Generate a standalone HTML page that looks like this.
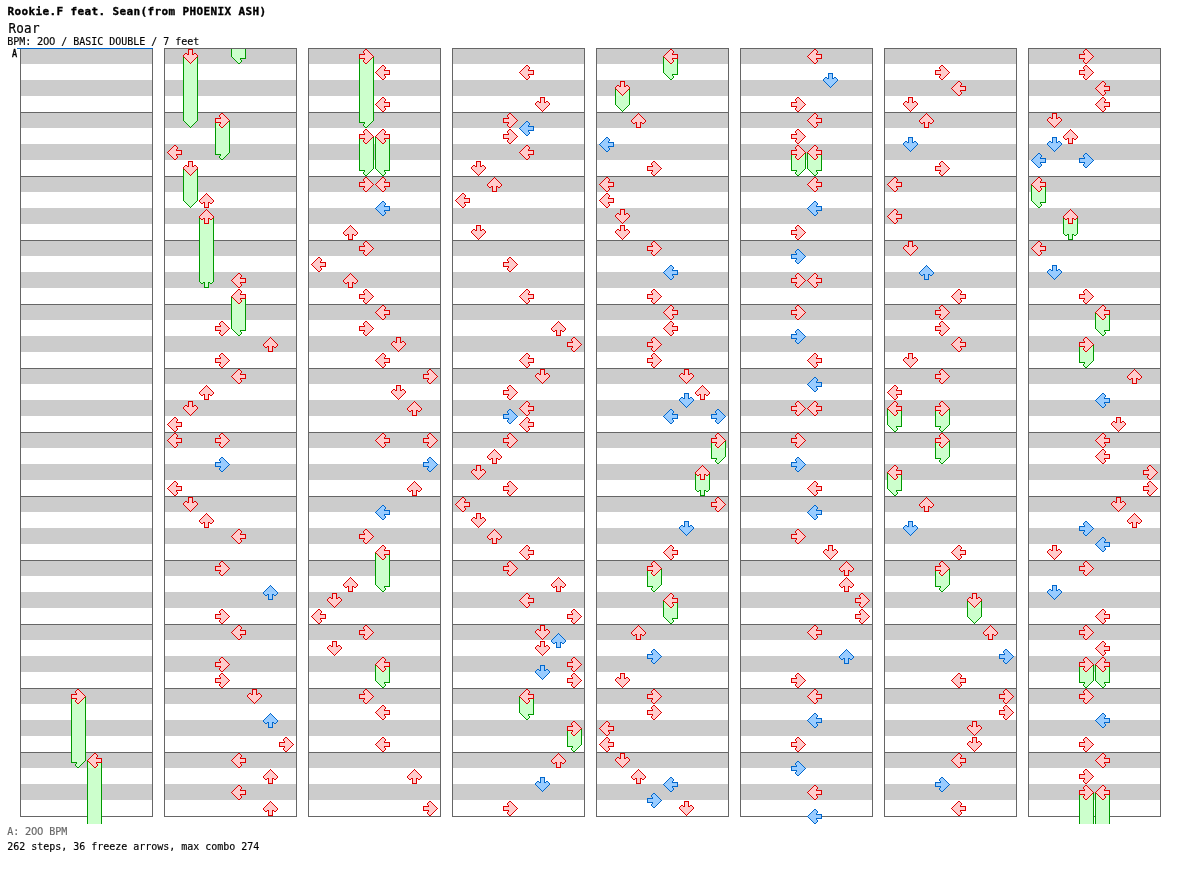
<!DOCTYPE html>
<html><head><meta charset="utf-8"><title>Roar</title>
<style>
html,body{margin:0;padding:0;background:#fff}
svg{display:block}
text{font-family:"DejaVu Sans Mono","Liberation Mono",monospace;white-space:pre}
</style></head><body>
<svg width="1184" height="876" viewBox="0 0 1184 876">
<defs><g id="rL"><path fill="#ffcccc" d="M7 0h2v1h-2zM6 1h4v1h-4zM5 2h6v1h-6zM4 3h7v1h-7zM3 4h7v1h-7zM2 5h13v1h-13zM1 6h14v1h-14zM0 7h15v1h-15zM1 8h14v1h-14zM2 9h13v1h-13zM3 10h7v1h-7zM4 11h7v1h-7zM5 12h6v1h-6zM6 13h4v1h-4zM7 14h2v1h-2z"/><path fill="#dd0000" d="M7 0h2v1h-2zM6 1h1v1h-1zM9 1h1v1h-1zM5 2h1v1h-1zM10 2h1v1h-1zM4 3h1v1h-1zM10 3h1v1h-1zM3 4h1v1h-1zM9 4h1v1h-1zM2 5h1v1h-1zM9 5h6v1h-6zM1 6h1v1h-1zM14 6h1v1h-1zM0 7h1v1h-1zM14 7h1v1h-1zM1 8h1v1h-1zM14 8h1v1h-1zM2 9h1v1h-1zM9 9h6v1h-6zM3 10h1v1h-1zM9 10h1v1h-1zM4 11h1v1h-1zM10 11h1v1h-1zM5 12h1v1h-1zM10 12h1v1h-1zM6 13h1v1h-1zM9 13h1v1h-1zM7 14h2v1h-2z"/></g><g id="bL"><path fill="#99ccff" d="M7 0h2v1h-2zM6 1h4v1h-4zM5 2h6v1h-6zM4 3h7v1h-7zM3 4h7v1h-7zM2 5h13v1h-13zM1 6h14v1h-14zM0 7h15v1h-15zM1 8h14v1h-14zM2 9h13v1h-13zM3 10h7v1h-7zM4 11h7v1h-7zM5 12h6v1h-6zM6 13h4v1h-4zM7 14h2v1h-2z"/><path fill="#0066cc" d="M7 0h2v1h-2zM6 1h1v1h-1zM9 1h1v1h-1zM5 2h1v1h-1zM10 2h1v1h-1zM4 3h1v1h-1zM10 3h1v1h-1zM3 4h1v1h-1zM9 4h1v1h-1zM2 5h1v1h-1zM9 5h6v1h-6zM1 6h1v1h-1zM14 6h1v1h-1zM0 7h1v1h-1zM14 7h1v1h-1zM1 8h1v1h-1zM14 8h1v1h-1zM2 9h1v1h-1zM9 9h6v1h-6zM3 10h1v1h-1zM9 10h1v1h-1zM4 11h1v1h-1zM10 11h1v1h-1zM5 12h1v1h-1zM10 12h1v1h-1zM6 13h1v1h-1zM9 13h1v1h-1zM7 14h2v1h-2z"/></g><g id="tL"><path fill="#ccffcc" d="M0 7h15v1h-15zM1 8h14v1h-14zM2 9h13v1h-13zM3 10h7v1h-7zM4 11h7v1h-7zM5 12h6v1h-6zM6 13h4v1h-4zM7 14h2v1h-2z"/><path fill="#009900" d="M0 7h1v1h-1zM14 7h1v1h-1zM1 8h1v1h-1zM14 8h1v1h-1zM2 9h1v1h-1zM9 9h6v1h-6zM3 10h1v1h-1zM9 10h1v1h-1zM4 11h1v1h-1zM10 11h1v1h-1zM5 12h1v1h-1zM10 12h1v1h-1zM6 13h1v1h-1zM9 13h1v1h-1zM7 14h2v1h-2z"/></g><g id="rD"><path fill="#ffcccc" d="M5 0h5v1h-5zM5 1h5v1h-5zM5 2h5v1h-5zM5 3h5v1h-5zM2 4h2v1h-2zM5 4h5v1h-5zM11 4h2v1h-2zM1 5h13v1h-13zM0 6h15v1h-15zM0 7h15v1h-15zM1 8h13v1h-13zM2 9h11v1h-11zM3 10h9v1h-9zM4 11h7v1h-7zM5 12h5v1h-5zM6 13h3v1h-3zM7 14h1v1h-1z"/><path fill="#dd0000" d="M5 0h5v1h-5zM5 1h1v1h-1zM9 1h1v1h-1zM5 2h1v1h-1zM9 2h1v1h-1zM5 3h1v1h-1zM9 3h1v1h-1zM2 4h2v1h-2zM5 4h1v1h-1zM9 4h1v1h-1zM11 4h2v1h-2zM1 5h1v1h-1zM4 5h2v1h-2zM9 5h2v1h-2zM13 5h1v1h-1zM0 6h1v1h-1zM14 6h1v1h-1zM0 7h1v1h-1zM14 7h1v1h-1zM1 8h1v1h-1zM13 8h1v1h-1zM2 9h1v1h-1zM12 9h1v1h-1zM3 10h1v1h-1zM11 10h1v1h-1zM4 11h1v1h-1zM10 11h1v1h-1zM5 12h1v1h-1zM9 12h1v1h-1zM6 13h1v1h-1zM8 13h1v1h-1zM7 14h1v1h-1z"/></g><g id="bD"><path fill="#99ccff" d="M5 0h5v1h-5zM5 1h5v1h-5zM5 2h5v1h-5zM5 3h5v1h-5zM2 4h2v1h-2zM5 4h5v1h-5zM11 4h2v1h-2zM1 5h13v1h-13zM0 6h15v1h-15zM0 7h15v1h-15zM1 8h13v1h-13zM2 9h11v1h-11zM3 10h9v1h-9zM4 11h7v1h-7zM5 12h5v1h-5zM6 13h3v1h-3zM7 14h1v1h-1z"/><path fill="#0066cc" d="M5 0h5v1h-5zM5 1h1v1h-1zM9 1h1v1h-1zM5 2h1v1h-1zM9 2h1v1h-1zM5 3h1v1h-1zM9 3h1v1h-1zM2 4h2v1h-2zM5 4h1v1h-1zM9 4h1v1h-1zM11 4h2v1h-2zM1 5h1v1h-1zM4 5h2v1h-2zM9 5h2v1h-2zM13 5h1v1h-1zM0 6h1v1h-1zM14 6h1v1h-1zM0 7h1v1h-1zM14 7h1v1h-1zM1 8h1v1h-1zM13 8h1v1h-1zM2 9h1v1h-1zM12 9h1v1h-1zM3 10h1v1h-1zM11 10h1v1h-1zM4 11h1v1h-1zM10 11h1v1h-1zM5 12h1v1h-1zM9 12h1v1h-1zM6 13h1v1h-1zM8 13h1v1h-1zM7 14h1v1h-1z"/></g><g id="tD"><path fill="#ccffcc" d="M0 7h15v1h-15zM1 8h13v1h-13zM2 9h11v1h-11zM3 10h9v1h-9zM4 11h7v1h-7zM5 12h5v1h-5zM6 13h3v1h-3zM7 14h1v1h-1z"/><path fill="#009900" d="M0 7h1v1h-1zM14 7h1v1h-1zM1 8h1v1h-1zM13 8h1v1h-1zM2 9h1v1h-1zM12 9h1v1h-1zM3 10h1v1h-1zM11 10h1v1h-1zM4 11h1v1h-1zM10 11h1v1h-1zM5 12h1v1h-1zM9 12h1v1h-1zM6 13h1v1h-1zM8 13h1v1h-1zM7 14h1v1h-1z"/></g><g id="rU"><path fill="#ffcccc" d="M7 0h1v1h-1zM6 1h3v1h-3zM5 2h5v1h-5zM4 3h7v1h-7zM3 4h9v1h-9zM2 5h11v1h-11zM1 6h13v1h-13zM0 7h15v1h-15zM0 8h15v1h-15zM1 9h13v1h-13zM2 10h2v1h-2zM5 10h5v1h-5zM11 10h2v1h-2zM5 11h5v1h-5zM5 12h5v1h-5zM5 13h5v1h-5zM5 14h5v1h-5z"/><path fill="#dd0000" d="M7 0h1v1h-1zM6 1h1v1h-1zM8 1h1v1h-1zM5 2h1v1h-1zM9 2h1v1h-1zM4 3h1v1h-1zM10 3h1v1h-1zM3 4h1v1h-1zM11 4h1v1h-1zM2 5h1v1h-1zM12 5h1v1h-1zM1 6h1v1h-1zM13 6h1v1h-1zM0 7h1v1h-1zM14 7h1v1h-1zM0 8h1v1h-1zM14 8h1v1h-1zM1 9h1v1h-1zM4 9h2v1h-2zM9 9h2v1h-2zM13 9h1v1h-1zM2 10h2v1h-2zM5 10h1v1h-1zM9 10h1v1h-1zM11 10h2v1h-2zM5 11h1v1h-1zM9 11h1v1h-1zM5 12h1v1h-1zM9 12h1v1h-1zM5 13h1v1h-1zM9 13h1v1h-1zM5 14h5v1h-5z"/></g><g id="bU"><path fill="#99ccff" d="M7 0h1v1h-1zM6 1h3v1h-3zM5 2h5v1h-5zM4 3h7v1h-7zM3 4h9v1h-9zM2 5h11v1h-11zM1 6h13v1h-13zM0 7h15v1h-15zM0 8h15v1h-15zM1 9h13v1h-13zM2 10h2v1h-2zM5 10h5v1h-5zM11 10h2v1h-2zM5 11h5v1h-5zM5 12h5v1h-5zM5 13h5v1h-5zM5 14h5v1h-5z"/><path fill="#0066cc" d="M7 0h1v1h-1zM6 1h1v1h-1zM8 1h1v1h-1zM5 2h1v1h-1zM9 2h1v1h-1zM4 3h1v1h-1zM10 3h1v1h-1zM3 4h1v1h-1zM11 4h1v1h-1zM2 5h1v1h-1zM12 5h1v1h-1zM1 6h1v1h-1zM13 6h1v1h-1zM0 7h1v1h-1zM14 7h1v1h-1zM0 8h1v1h-1zM14 8h1v1h-1zM1 9h1v1h-1zM4 9h2v1h-2zM9 9h2v1h-2zM13 9h1v1h-1zM2 10h2v1h-2zM5 10h1v1h-1zM9 10h1v1h-1zM11 10h2v1h-2zM5 11h1v1h-1zM9 11h1v1h-1zM5 12h1v1h-1zM9 12h1v1h-1zM5 13h1v1h-1zM9 13h1v1h-1zM5 14h5v1h-5z"/></g><g id="tU"><path fill="#ccffcc" d="M0 7h15v1h-15zM0 8h15v1h-15zM1 9h13v1h-13zM2 10h2v1h-2zM5 10h5v1h-5zM11 10h2v1h-2zM5 11h5v1h-5zM5 12h5v1h-5zM5 13h5v1h-5zM5 14h5v1h-5z"/><path fill="#009900" d="M0 7h1v1h-1zM14 7h1v1h-1zM0 8h1v1h-1zM14 8h1v1h-1zM1 9h1v1h-1zM4 9h2v1h-2zM9 9h2v1h-2zM13 9h1v1h-1zM2 10h2v1h-2zM5 10h1v1h-1zM9 10h1v1h-1zM11 10h2v1h-2zM5 11h1v1h-1zM9 11h1v1h-1zM5 12h1v1h-1zM9 12h1v1h-1zM5 13h1v1h-1zM9 13h1v1h-1zM5 14h5v1h-5z"/></g><g id="rR"><path fill="#ffcccc" d="M6 0h2v1h-2zM5 1h4v1h-4zM4 2h6v1h-6zM4 3h7v1h-7zM5 4h7v1h-7zM0 5h13v1h-13zM0 6h14v1h-14zM0 7h15v1h-15zM0 8h14v1h-14zM0 9h13v1h-13zM5 10h7v1h-7zM4 11h7v1h-7zM4 12h6v1h-6zM5 13h4v1h-4zM6 14h2v1h-2z"/><path fill="#dd0000" d="M6 0h2v1h-2zM5 1h1v1h-1zM8 1h1v1h-1zM4 2h1v1h-1zM9 2h1v1h-1zM4 3h1v1h-1zM10 3h1v1h-1zM5 4h1v1h-1zM11 4h1v1h-1zM0 5h6v1h-6zM12 5h1v1h-1zM0 6h1v1h-1zM13 6h1v1h-1zM0 7h1v1h-1zM14 7h1v1h-1zM0 8h1v1h-1zM13 8h1v1h-1zM0 9h6v1h-6zM12 9h1v1h-1zM5 10h1v1h-1zM11 10h1v1h-1zM4 11h1v1h-1zM10 11h1v1h-1zM4 12h1v1h-1zM9 12h1v1h-1zM5 13h1v1h-1zM8 13h1v1h-1zM6 14h2v1h-2z"/></g><g id="bR"><path fill="#99ccff" d="M6 0h2v1h-2zM5 1h4v1h-4zM4 2h6v1h-6zM4 3h7v1h-7zM5 4h7v1h-7zM0 5h13v1h-13zM0 6h14v1h-14zM0 7h15v1h-15zM0 8h14v1h-14zM0 9h13v1h-13zM5 10h7v1h-7zM4 11h7v1h-7zM4 12h6v1h-6zM5 13h4v1h-4zM6 14h2v1h-2z"/><path fill="#0066cc" d="M6 0h2v1h-2zM5 1h1v1h-1zM8 1h1v1h-1zM4 2h1v1h-1zM9 2h1v1h-1zM4 3h1v1h-1zM10 3h1v1h-1zM5 4h1v1h-1zM11 4h1v1h-1zM0 5h6v1h-6zM12 5h1v1h-1zM0 6h1v1h-1zM13 6h1v1h-1zM0 7h1v1h-1zM14 7h1v1h-1zM0 8h1v1h-1zM13 8h1v1h-1zM0 9h6v1h-6zM12 9h1v1h-1zM5 10h1v1h-1zM11 10h1v1h-1zM4 11h1v1h-1zM10 11h1v1h-1zM4 12h1v1h-1zM9 12h1v1h-1zM5 13h1v1h-1zM8 13h1v1h-1zM6 14h2v1h-2z"/></g><g id="tR"><path fill="#ccffcc" d="M0 7h15v1h-15zM0 8h14v1h-14zM0 9h13v1h-13zM5 10h7v1h-7zM4 11h7v1h-7zM4 12h6v1h-6zM5 13h4v1h-4zM6 14h2v1h-2z"/><path fill="#009900" d="M0 7h1v1h-1zM14 7h1v1h-1zM0 8h1v1h-1zM13 8h1v1h-1zM0 9h6v1h-6zM12 9h1v1h-1zM5 10h1v1h-1zM11 10h1v1h-1zM4 11h1v1h-1zM10 11h1v1h-1zM4 12h1v1h-1zM9 12h1v1h-1zM5 13h1v1h-1zM8 13h1v1h-1zM6 14h2v1h-2z"/></g></defs>
<rect width="1184" height="876" fill="#fff"/>
<g shape-rendering="crispEdges">
<rect x="21" y="48" width="131" height="16" fill="#ccc"/><rect x="21" y="80" width="131" height="16" fill="#ccc"/><rect x="21" y="112" width="131" height="16" fill="#ccc"/><rect x="21" y="144" width="131" height="16" fill="#ccc"/><rect x="21" y="176" width="131" height="16" fill="#ccc"/><rect x="21" y="208" width="131" height="16" fill="#ccc"/><rect x="21" y="240" width="131" height="16" fill="#ccc"/><rect x="21" y="272" width="131" height="16" fill="#ccc"/><rect x="21" y="304" width="131" height="16" fill="#ccc"/><rect x="21" y="336" width="131" height="16" fill="#ccc"/><rect x="21" y="368" width="131" height="16" fill="#ccc"/><rect x="21" y="400" width="131" height="16" fill="#ccc"/><rect x="21" y="432" width="131" height="16" fill="#ccc"/><rect x="21" y="464" width="131" height="16" fill="#ccc"/><rect x="21" y="496" width="131" height="16" fill="#ccc"/><rect x="21" y="528" width="131" height="16" fill="#ccc"/><rect x="21" y="560" width="131" height="16" fill="#ccc"/><rect x="21" y="592" width="131" height="16" fill="#ccc"/><rect x="21" y="624" width="131" height="16" fill="#ccc"/><rect x="21" y="656" width="131" height="16" fill="#ccc"/><rect x="21" y="688" width="131" height="16" fill="#ccc"/><rect x="21" y="720" width="131" height="16" fill="#ccc"/><rect x="21" y="752" width="131" height="16" fill="#ccc"/><rect x="21" y="784" width="131" height="16" fill="#ccc"/><rect x="20" y="48" width="133" height="1" fill="#666"/><rect x="20" y="112" width="133" height="1" fill="#666"/><rect x="20" y="176" width="133" height="1" fill="#666"/><rect x="20" y="240" width="133" height="1" fill="#666"/><rect x="20" y="304" width="133" height="1" fill="#666"/><rect x="20" y="368" width="133" height="1" fill="#666"/><rect x="20" y="432" width="133" height="1" fill="#666"/><rect x="20" y="496" width="133" height="1" fill="#666"/><rect x="20" y="560" width="133" height="1" fill="#666"/><rect x="20" y="624" width="133" height="1" fill="#666"/><rect x="20" y="688" width="133" height="1" fill="#666"/><rect x="20" y="752" width="133" height="1" fill="#666"/><rect x="20" y="816" width="133" height="1" fill="#666"/><rect x="20" y="48" width="1" height="769" fill="#666"/><rect x="152" y="48" width="1" height="769" fill="#666"/><rect x="165" y="48" width="131" height="16" fill="#ccc"/><rect x="165" y="80" width="131" height="16" fill="#ccc"/><rect x="165" y="112" width="131" height="16" fill="#ccc"/><rect x="165" y="144" width="131" height="16" fill="#ccc"/><rect x="165" y="176" width="131" height="16" fill="#ccc"/><rect x="165" y="208" width="131" height="16" fill="#ccc"/><rect x="165" y="240" width="131" height="16" fill="#ccc"/><rect x="165" y="272" width="131" height="16" fill="#ccc"/><rect x="165" y="304" width="131" height="16" fill="#ccc"/><rect x="165" y="336" width="131" height="16" fill="#ccc"/><rect x="165" y="368" width="131" height="16" fill="#ccc"/><rect x="165" y="400" width="131" height="16" fill="#ccc"/><rect x="165" y="432" width="131" height="16" fill="#ccc"/><rect x="165" y="464" width="131" height="16" fill="#ccc"/><rect x="165" y="496" width="131" height="16" fill="#ccc"/><rect x="165" y="528" width="131" height="16" fill="#ccc"/><rect x="165" y="560" width="131" height="16" fill="#ccc"/><rect x="165" y="592" width="131" height="16" fill="#ccc"/><rect x="165" y="624" width="131" height="16" fill="#ccc"/><rect x="165" y="656" width="131" height="16" fill="#ccc"/><rect x="165" y="688" width="131" height="16" fill="#ccc"/><rect x="165" y="720" width="131" height="16" fill="#ccc"/><rect x="165" y="752" width="131" height="16" fill="#ccc"/><rect x="165" y="784" width="131" height="16" fill="#ccc"/><rect x="164" y="48" width="133" height="1" fill="#666"/><rect x="164" y="112" width="133" height="1" fill="#666"/><rect x="164" y="176" width="133" height="1" fill="#666"/><rect x="164" y="240" width="133" height="1" fill="#666"/><rect x="164" y="304" width="133" height="1" fill="#666"/><rect x="164" y="368" width="133" height="1" fill="#666"/><rect x="164" y="432" width="133" height="1" fill="#666"/><rect x="164" y="496" width="133" height="1" fill="#666"/><rect x="164" y="560" width="133" height="1" fill="#666"/><rect x="164" y="624" width="133" height="1" fill="#666"/><rect x="164" y="688" width="133" height="1" fill="#666"/><rect x="164" y="752" width="133" height="1" fill="#666"/><rect x="164" y="816" width="133" height="1" fill="#666"/><rect x="164" y="48" width="1" height="769" fill="#666"/><rect x="296" y="48" width="1" height="769" fill="#666"/><rect x="309" y="48" width="131" height="16" fill="#ccc"/><rect x="309" y="80" width="131" height="16" fill="#ccc"/><rect x="309" y="112" width="131" height="16" fill="#ccc"/><rect x="309" y="144" width="131" height="16" fill="#ccc"/><rect x="309" y="176" width="131" height="16" fill="#ccc"/><rect x="309" y="208" width="131" height="16" fill="#ccc"/><rect x="309" y="240" width="131" height="16" fill="#ccc"/><rect x="309" y="272" width="131" height="16" fill="#ccc"/><rect x="309" y="304" width="131" height="16" fill="#ccc"/><rect x="309" y="336" width="131" height="16" fill="#ccc"/><rect x="309" y="368" width="131" height="16" fill="#ccc"/><rect x="309" y="400" width="131" height="16" fill="#ccc"/><rect x="309" y="432" width="131" height="16" fill="#ccc"/><rect x="309" y="464" width="131" height="16" fill="#ccc"/><rect x="309" y="496" width="131" height="16" fill="#ccc"/><rect x="309" y="528" width="131" height="16" fill="#ccc"/><rect x="309" y="560" width="131" height="16" fill="#ccc"/><rect x="309" y="592" width="131" height="16" fill="#ccc"/><rect x="309" y="624" width="131" height="16" fill="#ccc"/><rect x="309" y="656" width="131" height="16" fill="#ccc"/><rect x="309" y="688" width="131" height="16" fill="#ccc"/><rect x="309" y="720" width="131" height="16" fill="#ccc"/><rect x="309" y="752" width="131" height="16" fill="#ccc"/><rect x="309" y="784" width="131" height="16" fill="#ccc"/><rect x="308" y="48" width="133" height="1" fill="#666"/><rect x="308" y="112" width="133" height="1" fill="#666"/><rect x="308" y="176" width="133" height="1" fill="#666"/><rect x="308" y="240" width="133" height="1" fill="#666"/><rect x="308" y="304" width="133" height="1" fill="#666"/><rect x="308" y="368" width="133" height="1" fill="#666"/><rect x="308" y="432" width="133" height="1" fill="#666"/><rect x="308" y="496" width="133" height="1" fill="#666"/><rect x="308" y="560" width="133" height="1" fill="#666"/><rect x="308" y="624" width="133" height="1" fill="#666"/><rect x="308" y="688" width="133" height="1" fill="#666"/><rect x="308" y="752" width="133" height="1" fill="#666"/><rect x="308" y="816" width="133" height="1" fill="#666"/><rect x="308" y="48" width="1" height="769" fill="#666"/><rect x="440" y="48" width="1" height="769" fill="#666"/><rect x="453" y="48" width="131" height="16" fill="#ccc"/><rect x="453" y="80" width="131" height="16" fill="#ccc"/><rect x="453" y="112" width="131" height="16" fill="#ccc"/><rect x="453" y="144" width="131" height="16" fill="#ccc"/><rect x="453" y="176" width="131" height="16" fill="#ccc"/><rect x="453" y="208" width="131" height="16" fill="#ccc"/><rect x="453" y="240" width="131" height="16" fill="#ccc"/><rect x="453" y="272" width="131" height="16" fill="#ccc"/><rect x="453" y="304" width="131" height="16" fill="#ccc"/><rect x="453" y="336" width="131" height="16" fill="#ccc"/><rect x="453" y="368" width="131" height="16" fill="#ccc"/><rect x="453" y="400" width="131" height="16" fill="#ccc"/><rect x="453" y="432" width="131" height="16" fill="#ccc"/><rect x="453" y="464" width="131" height="16" fill="#ccc"/><rect x="453" y="496" width="131" height="16" fill="#ccc"/><rect x="453" y="528" width="131" height="16" fill="#ccc"/><rect x="453" y="560" width="131" height="16" fill="#ccc"/><rect x="453" y="592" width="131" height="16" fill="#ccc"/><rect x="453" y="624" width="131" height="16" fill="#ccc"/><rect x="453" y="656" width="131" height="16" fill="#ccc"/><rect x="453" y="688" width="131" height="16" fill="#ccc"/><rect x="453" y="720" width="131" height="16" fill="#ccc"/><rect x="453" y="752" width="131" height="16" fill="#ccc"/><rect x="453" y="784" width="131" height="16" fill="#ccc"/><rect x="452" y="48" width="133" height="1" fill="#666"/><rect x="452" y="112" width="133" height="1" fill="#666"/><rect x="452" y="176" width="133" height="1" fill="#666"/><rect x="452" y="240" width="133" height="1" fill="#666"/><rect x="452" y="304" width="133" height="1" fill="#666"/><rect x="452" y="368" width="133" height="1" fill="#666"/><rect x="452" y="432" width="133" height="1" fill="#666"/><rect x="452" y="496" width="133" height="1" fill="#666"/><rect x="452" y="560" width="133" height="1" fill="#666"/><rect x="452" y="624" width="133" height="1" fill="#666"/><rect x="452" y="688" width="133" height="1" fill="#666"/><rect x="452" y="752" width="133" height="1" fill="#666"/><rect x="452" y="816" width="133" height="1" fill="#666"/><rect x="452" y="48" width="1" height="769" fill="#666"/><rect x="584" y="48" width="1" height="769" fill="#666"/><rect x="597" y="48" width="131" height="16" fill="#ccc"/><rect x="597" y="80" width="131" height="16" fill="#ccc"/><rect x="597" y="112" width="131" height="16" fill="#ccc"/><rect x="597" y="144" width="131" height="16" fill="#ccc"/><rect x="597" y="176" width="131" height="16" fill="#ccc"/><rect x="597" y="208" width="131" height="16" fill="#ccc"/><rect x="597" y="240" width="131" height="16" fill="#ccc"/><rect x="597" y="272" width="131" height="16" fill="#ccc"/><rect x="597" y="304" width="131" height="16" fill="#ccc"/><rect x="597" y="336" width="131" height="16" fill="#ccc"/><rect x="597" y="368" width="131" height="16" fill="#ccc"/><rect x="597" y="400" width="131" height="16" fill="#ccc"/><rect x="597" y="432" width="131" height="16" fill="#ccc"/><rect x="597" y="464" width="131" height="16" fill="#ccc"/><rect x="597" y="496" width="131" height="16" fill="#ccc"/><rect x="597" y="528" width="131" height="16" fill="#ccc"/><rect x="597" y="560" width="131" height="16" fill="#ccc"/><rect x="597" y="592" width="131" height="16" fill="#ccc"/><rect x="597" y="624" width="131" height="16" fill="#ccc"/><rect x="597" y="656" width="131" height="16" fill="#ccc"/><rect x="597" y="688" width="131" height="16" fill="#ccc"/><rect x="597" y="720" width="131" height="16" fill="#ccc"/><rect x="597" y="752" width="131" height="16" fill="#ccc"/><rect x="597" y="784" width="131" height="16" fill="#ccc"/><rect x="596" y="48" width="133" height="1" fill="#666"/><rect x="596" y="112" width="133" height="1" fill="#666"/><rect x="596" y="176" width="133" height="1" fill="#666"/><rect x="596" y="240" width="133" height="1" fill="#666"/><rect x="596" y="304" width="133" height="1" fill="#666"/><rect x="596" y="368" width="133" height="1" fill="#666"/><rect x="596" y="432" width="133" height="1" fill="#666"/><rect x="596" y="496" width="133" height="1" fill="#666"/><rect x="596" y="560" width="133" height="1" fill="#666"/><rect x="596" y="624" width="133" height="1" fill="#666"/><rect x="596" y="688" width="133" height="1" fill="#666"/><rect x="596" y="752" width="133" height="1" fill="#666"/><rect x="596" y="816" width="133" height="1" fill="#666"/><rect x="596" y="48" width="1" height="769" fill="#666"/><rect x="728" y="48" width="1" height="769" fill="#666"/><rect x="741" y="48" width="131" height="16" fill="#ccc"/><rect x="741" y="80" width="131" height="16" fill="#ccc"/><rect x="741" y="112" width="131" height="16" fill="#ccc"/><rect x="741" y="144" width="131" height="16" fill="#ccc"/><rect x="741" y="176" width="131" height="16" fill="#ccc"/><rect x="741" y="208" width="131" height="16" fill="#ccc"/><rect x="741" y="240" width="131" height="16" fill="#ccc"/><rect x="741" y="272" width="131" height="16" fill="#ccc"/><rect x="741" y="304" width="131" height="16" fill="#ccc"/><rect x="741" y="336" width="131" height="16" fill="#ccc"/><rect x="741" y="368" width="131" height="16" fill="#ccc"/><rect x="741" y="400" width="131" height="16" fill="#ccc"/><rect x="741" y="432" width="131" height="16" fill="#ccc"/><rect x="741" y="464" width="131" height="16" fill="#ccc"/><rect x="741" y="496" width="131" height="16" fill="#ccc"/><rect x="741" y="528" width="131" height="16" fill="#ccc"/><rect x="741" y="560" width="131" height="16" fill="#ccc"/><rect x="741" y="592" width="131" height="16" fill="#ccc"/><rect x="741" y="624" width="131" height="16" fill="#ccc"/><rect x="741" y="656" width="131" height="16" fill="#ccc"/><rect x="741" y="688" width="131" height="16" fill="#ccc"/><rect x="741" y="720" width="131" height="16" fill="#ccc"/><rect x="741" y="752" width="131" height="16" fill="#ccc"/><rect x="741" y="784" width="131" height="16" fill="#ccc"/><rect x="740" y="48" width="133" height="1" fill="#666"/><rect x="740" y="112" width="133" height="1" fill="#666"/><rect x="740" y="176" width="133" height="1" fill="#666"/><rect x="740" y="240" width="133" height="1" fill="#666"/><rect x="740" y="304" width="133" height="1" fill="#666"/><rect x="740" y="368" width="133" height="1" fill="#666"/><rect x="740" y="432" width="133" height="1" fill="#666"/><rect x="740" y="496" width="133" height="1" fill="#666"/><rect x="740" y="560" width="133" height="1" fill="#666"/><rect x="740" y="624" width="133" height="1" fill="#666"/><rect x="740" y="688" width="133" height="1" fill="#666"/><rect x="740" y="752" width="133" height="1" fill="#666"/><rect x="740" y="816" width="133" height="1" fill="#666"/><rect x="740" y="48" width="1" height="769" fill="#666"/><rect x="872" y="48" width="1" height="769" fill="#666"/><rect x="885" y="48" width="131" height="16" fill="#ccc"/><rect x="885" y="80" width="131" height="16" fill="#ccc"/><rect x="885" y="112" width="131" height="16" fill="#ccc"/><rect x="885" y="144" width="131" height="16" fill="#ccc"/><rect x="885" y="176" width="131" height="16" fill="#ccc"/><rect x="885" y="208" width="131" height="16" fill="#ccc"/><rect x="885" y="240" width="131" height="16" fill="#ccc"/><rect x="885" y="272" width="131" height="16" fill="#ccc"/><rect x="885" y="304" width="131" height="16" fill="#ccc"/><rect x="885" y="336" width="131" height="16" fill="#ccc"/><rect x="885" y="368" width="131" height="16" fill="#ccc"/><rect x="885" y="400" width="131" height="16" fill="#ccc"/><rect x="885" y="432" width="131" height="16" fill="#ccc"/><rect x="885" y="464" width="131" height="16" fill="#ccc"/><rect x="885" y="496" width="131" height="16" fill="#ccc"/><rect x="885" y="528" width="131" height="16" fill="#ccc"/><rect x="885" y="560" width="131" height="16" fill="#ccc"/><rect x="885" y="592" width="131" height="16" fill="#ccc"/><rect x="885" y="624" width="131" height="16" fill="#ccc"/><rect x="885" y="656" width="131" height="16" fill="#ccc"/><rect x="885" y="688" width="131" height="16" fill="#ccc"/><rect x="885" y="720" width="131" height="16" fill="#ccc"/><rect x="885" y="752" width="131" height="16" fill="#ccc"/><rect x="885" y="784" width="131" height="16" fill="#ccc"/><rect x="884" y="48" width="133" height="1" fill="#666"/><rect x="884" y="112" width="133" height="1" fill="#666"/><rect x="884" y="176" width="133" height="1" fill="#666"/><rect x="884" y="240" width="133" height="1" fill="#666"/><rect x="884" y="304" width="133" height="1" fill="#666"/><rect x="884" y="368" width="133" height="1" fill="#666"/><rect x="884" y="432" width="133" height="1" fill="#666"/><rect x="884" y="496" width="133" height="1" fill="#666"/><rect x="884" y="560" width="133" height="1" fill="#666"/><rect x="884" y="624" width="133" height="1" fill="#666"/><rect x="884" y="688" width="133" height="1" fill="#666"/><rect x="884" y="752" width="133" height="1" fill="#666"/><rect x="884" y="816" width="133" height="1" fill="#666"/><rect x="884" y="48" width="1" height="769" fill="#666"/><rect x="1016" y="48" width="1" height="769" fill="#666"/><rect x="1029" y="48" width="131" height="16" fill="#ccc"/><rect x="1029" y="80" width="131" height="16" fill="#ccc"/><rect x="1029" y="112" width="131" height="16" fill="#ccc"/><rect x="1029" y="144" width="131" height="16" fill="#ccc"/><rect x="1029" y="176" width="131" height="16" fill="#ccc"/><rect x="1029" y="208" width="131" height="16" fill="#ccc"/><rect x="1029" y="240" width="131" height="16" fill="#ccc"/><rect x="1029" y="272" width="131" height="16" fill="#ccc"/><rect x="1029" y="304" width="131" height="16" fill="#ccc"/><rect x="1029" y="336" width="131" height="16" fill="#ccc"/><rect x="1029" y="368" width="131" height="16" fill="#ccc"/><rect x="1029" y="400" width="131" height="16" fill="#ccc"/><rect x="1029" y="432" width="131" height="16" fill="#ccc"/><rect x="1029" y="464" width="131" height="16" fill="#ccc"/><rect x="1029" y="496" width="131" height="16" fill="#ccc"/><rect x="1029" y="528" width="131" height="16" fill="#ccc"/><rect x="1029" y="560" width="131" height="16" fill="#ccc"/><rect x="1029" y="592" width="131" height="16" fill="#ccc"/><rect x="1029" y="624" width="131" height="16" fill="#ccc"/><rect x="1029" y="656" width="131" height="16" fill="#ccc"/><rect x="1029" y="688" width="131" height="16" fill="#ccc"/><rect x="1029" y="720" width="131" height="16" fill="#ccc"/><rect x="1029" y="752" width="131" height="16" fill="#ccc"/><rect x="1029" y="784" width="131" height="16" fill="#ccc"/><rect x="1028" y="48" width="133" height="1" fill="#666"/><rect x="1028" y="112" width="133" height="1" fill="#666"/><rect x="1028" y="176" width="133" height="1" fill="#666"/><rect x="1028" y="240" width="133" height="1" fill="#666"/><rect x="1028" y="304" width="133" height="1" fill="#666"/><rect x="1028" y="368" width="133" height="1" fill="#666"/><rect x="1028" y="432" width="133" height="1" fill="#666"/><rect x="1028" y="496" width="133" height="1" fill="#666"/><rect x="1028" y="560" width="133" height="1" fill="#666"/><rect x="1028" y="624" width="133" height="1" fill="#666"/><rect x="1028" y="688" width="133" height="1" fill="#666"/><rect x="1028" y="752" width="133" height="1" fill="#666"/><rect x="1028" y="816" width="133" height="1" fill="#666"/><rect x="1028" y="48" width="1" height="769" fill="#666"/><rect x="1160" y="48" width="1" height="769" fill="#666"/>
<rect x="17" y="48" width="136" height="1" fill="#0066cc"/>
<rect x="71" y="696" width="15" height="64" fill="#009900"/><rect x="72" y="696" width="13" height="64" fill="#ccffcc"/><use href="#tR" x="71" y="753"/><rect x="87" y="760" width="15" height="64" fill="#009900"/><rect x="88" y="760" width="13" height="64" fill="#ccffcc"/><rect x="231" y="49" width="15" height="7" fill="#009900"/><rect x="232" y="49" width="13" height="7" fill="#ccffcc"/><use href="#tL" x="231" y="49"/><rect x="183" y="56" width="15" height="64" fill="#009900"/><rect x="184" y="56" width="13" height="64" fill="#ccffcc"/><use href="#tD" x="183" y="113"/><rect x="215" y="120" width="15" height="32" fill="#009900"/><rect x="216" y="120" width="13" height="32" fill="#ccffcc"/><use href="#tR" x="215" y="145"/><rect x="183" y="168" width="15" height="32" fill="#009900"/><rect x="184" y="168" width="13" height="32" fill="#ccffcc"/><use href="#tD" x="183" y="193"/><rect x="199" y="216" width="15" height="64" fill="#009900"/><rect x="200" y="216" width="13" height="64" fill="#ccffcc"/><use href="#tU" x="199" y="273"/><rect x="231" y="296" width="15" height="32" fill="#009900"/><rect x="232" y="296" width="13" height="32" fill="#ccffcc"/><use href="#tL" x="231" y="321"/><rect x="359" y="56" width="15" height="64" fill="#009900"/><rect x="360" y="56" width="13" height="64" fill="#ccffcc"/><use href="#tR" x="359" y="113"/><rect x="359" y="136" width="15" height="32" fill="#009900"/><rect x="360" y="136" width="13" height="32" fill="#ccffcc"/><use href="#tR" x="359" y="161"/><rect x="375" y="136" width="15" height="32" fill="#009900"/><rect x="376" y="136" width="13" height="32" fill="#ccffcc"/><use href="#tL" x="375" y="161"/><rect x="375" y="552" width="15" height="32" fill="#009900"/><rect x="376" y="552" width="13" height="32" fill="#ccffcc"/><use href="#tL" x="375" y="577"/><rect x="375" y="664" width="15" height="16" fill="#009900"/><rect x="376" y="664" width="13" height="16" fill="#ccffcc"/><use href="#tL" x="375" y="673"/><rect x="519" y="696" width="15" height="16" fill="#009900"/><rect x="520" y="696" width="13" height="16" fill="#ccffcc"/><use href="#tL" x="519" y="705"/><rect x="567" y="728" width="15" height="16" fill="#009900"/><rect x="568" y="728" width="13" height="16" fill="#ccffcc"/><use href="#tR" x="567" y="737"/><rect x="663" y="56" width="15" height="16" fill="#009900"/><rect x="664" y="56" width="13" height="16" fill="#ccffcc"/><use href="#tL" x="663" y="65"/><rect x="615" y="88" width="15" height="16" fill="#009900"/><rect x="616" y="88" width="13" height="16" fill="#ccffcc"/><use href="#tD" x="615" y="97"/><rect x="711" y="440" width="15" height="16" fill="#009900"/><rect x="712" y="440" width="13" height="16" fill="#ccffcc"/><use href="#tR" x="711" y="449"/><rect x="695" y="472" width="15" height="16" fill="#009900"/><rect x="696" y="472" width="13" height="16" fill="#ccffcc"/><use href="#tU" x="695" y="481"/><rect x="647" y="568" width="15" height="16" fill="#009900"/><rect x="648" y="568" width="13" height="16" fill="#ccffcc"/><use href="#tR" x="647" y="577"/><rect x="663" y="600" width="15" height="16" fill="#009900"/><rect x="664" y="600" width="13" height="16" fill="#ccffcc"/><use href="#tL" x="663" y="609"/><rect x="791" y="152" width="15" height="16" fill="#009900"/><rect x="792" y="152" width="13" height="16" fill="#ccffcc"/><use href="#tR" x="791" y="161"/><rect x="807" y="152" width="15" height="16" fill="#009900"/><rect x="808" y="152" width="13" height="16" fill="#ccffcc"/><use href="#tL" x="807" y="161"/><rect x="887" y="408" width="15" height="16" fill="#009900"/><rect x="888" y="408" width="13" height="16" fill="#ccffcc"/><use href="#tL" x="887" y="417"/><rect x="935" y="408" width="15" height="16" fill="#009900"/><rect x="936" y="408" width="13" height="16" fill="#ccffcc"/><use href="#tR" x="935" y="417"/><rect x="935" y="440" width="15" height="16" fill="#009900"/><rect x="936" y="440" width="13" height="16" fill="#ccffcc"/><use href="#tR" x="935" y="449"/><rect x="887" y="472" width="15" height="16" fill="#009900"/><rect x="888" y="472" width="13" height="16" fill="#ccffcc"/><use href="#tL" x="887" y="481"/><rect x="935" y="568" width="15" height="16" fill="#009900"/><rect x="936" y="568" width="13" height="16" fill="#ccffcc"/><use href="#tR" x="935" y="577"/><rect x="967" y="600" width="15" height="16" fill="#009900"/><rect x="968" y="600" width="13" height="16" fill="#ccffcc"/><use href="#tD" x="967" y="609"/><rect x="1031" y="184" width="15" height="16" fill="#009900"/><rect x="1032" y="184" width="13" height="16" fill="#ccffcc"/><use href="#tL" x="1031" y="193"/><rect x="1063" y="216" width="15" height="16" fill="#009900"/><rect x="1064" y="216" width="13" height="16" fill="#ccffcc"/><use href="#tU" x="1063" y="225"/><rect x="1095" y="312" width="15" height="16" fill="#009900"/><rect x="1096" y="312" width="13" height="16" fill="#ccffcc"/><use href="#tL" x="1095" y="321"/><rect x="1079" y="344" width="15" height="16" fill="#009900"/><rect x="1080" y="344" width="13" height="16" fill="#ccffcc"/><use href="#tR" x="1079" y="353"/><rect x="1079" y="664" width="15" height="16" fill="#009900"/><rect x="1080" y="664" width="13" height="16" fill="#ccffcc"/><use href="#tR" x="1079" y="673"/><rect x="1095" y="664" width="15" height="16" fill="#009900"/><rect x="1096" y="664" width="13" height="16" fill="#ccffcc"/><use href="#tL" x="1095" y="673"/><rect x="1079" y="792" width="15" height="32" fill="#009900"/><rect x="1080" y="792" width="13" height="32" fill="#ccffcc"/><rect x="1095" y="792" width="15" height="32" fill="#009900"/><rect x="1096" y="792" width="13" height="32" fill="#ccffcc"/>
<use href="#rR" x="71" y="689"/><use href="#rL" x="87" y="753"/><use href="#rD" x="183" y="49"/><use href="#rR" x="215" y="113"/><use href="#rL" x="167" y="145"/><use href="#rD" x="183" y="161"/><use href="#rU" x="199" y="193"/><use href="#rU" x="199" y="209"/><use href="#rL" x="231" y="273"/><use href="#rL" x="231" y="289"/><use href="#rR" x="215" y="321"/><use href="#rU" x="263" y="337"/><use href="#rR" x="215" y="353"/><use href="#rL" x="231" y="369"/><use href="#rU" x="199" y="385"/><use href="#rD" x="183" y="401"/><use href="#rL" x="167" y="417"/><use href="#rL" x="167" y="433"/><use href="#rR" x="215" y="433"/><use href="#bR" x="215" y="457"/><use href="#rL" x="167" y="481"/><use href="#rD" x="183" y="497"/><use href="#rU" x="199" y="513"/><use href="#rL" x="231" y="529"/><use href="#rR" x="215" y="561"/><use href="#bU" x="263" y="585"/><use href="#rR" x="215" y="609"/><use href="#rL" x="231" y="625"/><use href="#rR" x="215" y="657"/><use href="#rR" x="215" y="673"/><use href="#rD" x="247" y="689"/><use href="#bU" x="263" y="713"/><use href="#rR" x="279" y="737"/><use href="#rL" x="231" y="753"/><use href="#rU" x="263" y="769"/><use href="#rL" x="231" y="785"/><use href="#rU" x="263" y="801"/><use href="#rR" x="359" y="49"/><use href="#rL" x="375" y="65"/><use href="#rL" x="375" y="97"/><use href="#rR" x="359" y="129"/><use href="#rL" x="375" y="129"/><use href="#rR" x="359" y="177"/><use href="#rL" x="375" y="177"/><use href="#bL" x="375" y="201"/><use href="#rU" x="343" y="225"/><use href="#rR" x="359" y="241"/><use href="#rL" x="311" y="257"/><use href="#rU" x="343" y="273"/><use href="#rR" x="359" y="289"/><use href="#rL" x="375" y="305"/><use href="#rR" x="359" y="321"/><use href="#rD" x="391" y="337"/><use href="#rL" x="375" y="353"/><use href="#rR" x="423" y="369"/><use href="#rD" x="391" y="385"/><use href="#rU" x="407" y="401"/><use href="#rL" x="375" y="433"/><use href="#rR" x="423" y="433"/><use href="#bR" x="423" y="457"/><use href="#rU" x="407" y="481"/><use href="#bL" x="375" y="505"/><use href="#rR" x="359" y="529"/><use href="#rL" x="375" y="545"/><use href="#rU" x="343" y="577"/><use href="#rD" x="327" y="593"/><use href="#rL" x="311" y="609"/><use href="#rR" x="359" y="625"/><use href="#rD" x="327" y="641"/><use href="#rL" x="375" y="657"/><use href="#rR" x="359" y="689"/><use href="#rL" x="375" y="705"/><use href="#rL" x="375" y="737"/><use href="#rU" x="407" y="769"/><use href="#rR" x="423" y="801"/><use href="#rL" x="519" y="65"/><use href="#rD" x="535" y="97"/><use href="#rR" x="503" y="113"/><use href="#bL" x="519" y="121"/><use href="#rR" x="503" y="129"/><use href="#rL" x="519" y="145"/><use href="#rD" x="471" y="161"/><use href="#rU" x="487" y="177"/><use href="#rL" x="455" y="193"/><use href="#rD" x="471" y="225"/><use href="#rR" x="503" y="257"/><use href="#rL" x="519" y="289"/><use href="#rU" x="551" y="321"/><use href="#rR" x="567" y="337"/><use href="#rL" x="519" y="353"/><use href="#rD" x="535" y="369"/><use href="#rR" x="503" y="385"/><use href="#rL" x="519" y="401"/><use href="#bR" x="503" y="409"/><use href="#rL" x="519" y="417"/><use href="#rR" x="503" y="433"/><use href="#rU" x="487" y="449"/><use href="#rD" x="471" y="465"/><use href="#rR" x="503" y="481"/><use href="#rL" x="455" y="497"/><use href="#rD" x="471" y="513"/><use href="#rU" x="487" y="529"/><use href="#rL" x="519" y="545"/><use href="#rR" x="503" y="561"/><use href="#rU" x="551" y="577"/><use href="#rL" x="519" y="593"/><use href="#rR" x="567" y="609"/><use href="#rD" x="535" y="625"/><use href="#bU" x="551" y="633"/><use href="#rD" x="535" y="641"/><use href="#rR" x="567" y="657"/><use href="#bD" x="535" y="665"/><use href="#rR" x="567" y="673"/><use href="#rL" x="519" y="689"/><use href="#rR" x="567" y="721"/><use href="#rU" x="551" y="753"/><use href="#bD" x="535" y="777"/><use href="#rR" x="503" y="801"/><use href="#rL" x="663" y="49"/><use href="#rD" x="615" y="81"/><use href="#rU" x="631" y="113"/><use href="#bL" x="599" y="137"/><use href="#rR" x="647" y="161"/><use href="#rL" x="599" y="177"/><use href="#rL" x="599" y="193"/><use href="#rD" x="615" y="209"/><use href="#rD" x="615" y="225"/><use href="#rR" x="647" y="241"/><use href="#bL" x="663" y="265"/><use href="#rR" x="647" y="289"/><use href="#rL" x="663" y="305"/><use href="#rL" x="663" y="321"/><use href="#rR" x="647" y="337"/><use href="#rR" x="647" y="353"/><use href="#rD" x="679" y="369"/><use href="#rU" x="695" y="385"/><use href="#bD" x="679" y="393"/><use href="#bL" x="663" y="409"/><use href="#bR" x="711" y="409"/><use href="#rR" x="711" y="433"/><use href="#rU" x="695" y="465"/><use href="#rR" x="711" y="497"/><use href="#bD" x="679" y="521"/><use href="#rL" x="663" y="545"/><use href="#rR" x="647" y="561"/><use href="#rL" x="663" y="593"/><use href="#rU" x="631" y="625"/><use href="#bR" x="647" y="649"/><use href="#rD" x="615" y="673"/><use href="#rR" x="647" y="689"/><use href="#rR" x="647" y="705"/><use href="#rL" x="599" y="721"/><use href="#rL" x="599" y="737"/><use href="#rD" x="615" y="753"/><use href="#rU" x="631" y="769"/><use href="#bL" x="663" y="777"/><use href="#bR" x="647" y="793"/><use href="#rD" x="679" y="801"/><use href="#rL" x="807" y="49"/><use href="#bD" x="823" y="73"/><use href="#rR" x="791" y="97"/><use href="#rL" x="807" y="113"/><use href="#rR" x="791" y="129"/><use href="#rR" x="791" y="145"/><use href="#rL" x="807" y="145"/><use href="#rL" x="807" y="177"/><use href="#bL" x="807" y="201"/><use href="#rR" x="791" y="225"/><use href="#bR" x="791" y="249"/><use href="#rR" x="791" y="273"/><use href="#rL" x="807" y="273"/><use href="#rR" x="791" y="305"/><use href="#bR" x="791" y="329"/><use href="#rL" x="807" y="353"/><use href="#bL" x="807" y="377"/><use href="#rR" x="791" y="401"/><use href="#rL" x="807" y="401"/><use href="#rR" x="791" y="433"/><use href="#bR" x="791" y="457"/><use href="#rL" x="807" y="481"/><use href="#bL" x="807" y="505"/><use href="#rR" x="791" y="529"/><use href="#rD" x="823" y="545"/><use href="#rU" x="839" y="561"/><use href="#rU" x="839" y="577"/><use href="#rR" x="855" y="593"/><use href="#rR" x="855" y="609"/><use href="#rL" x="807" y="625"/><use href="#bU" x="839" y="649"/><use href="#rR" x="791" y="673"/><use href="#rL" x="807" y="689"/><use href="#bL" x="807" y="713"/><use href="#rR" x="791" y="737"/><use href="#bR" x="791" y="761"/><use href="#rL" x="807" y="785"/><use href="#bL" x="807" y="809"/><use href="#rR" x="935" y="65"/><use href="#rL" x="951" y="81"/><use href="#rD" x="903" y="97"/><use href="#rU" x="919" y="113"/><use href="#bD" x="903" y="137"/><use href="#rR" x="935" y="161"/><use href="#rL" x="887" y="177"/><use href="#rL" x="887" y="209"/><use href="#rD" x="903" y="241"/><use href="#bU" x="919" y="265"/><use href="#rL" x="951" y="289"/><use href="#rR" x="935" y="305"/><use href="#rR" x="935" y="321"/><use href="#rL" x="951" y="337"/><use href="#rD" x="903" y="353"/><use href="#rR" x="935" y="369"/><use href="#rL" x="887" y="385"/><use href="#rL" x="887" y="401"/><use href="#rR" x="935" y="401"/><use href="#rR" x="935" y="433"/><use href="#rL" x="887" y="465"/><use href="#rU" x="919" y="497"/><use href="#bD" x="903" y="521"/><use href="#rL" x="951" y="545"/><use href="#rR" x="935" y="561"/><use href="#rD" x="967" y="593"/><use href="#rU" x="983" y="625"/><use href="#bR" x="999" y="649"/><use href="#rL" x="951" y="673"/><use href="#rR" x="999" y="689"/><use href="#rR" x="999" y="705"/><use href="#rD" x="967" y="721"/><use href="#rD" x="967" y="737"/><use href="#rL" x="951" y="753"/><use href="#bR" x="935" y="777"/><use href="#rL" x="951" y="801"/><use href="#rR" x="1079" y="49"/><use href="#rR" x="1079" y="65"/><use href="#rL" x="1095" y="81"/><use href="#rL" x="1095" y="97"/><use href="#rD" x="1047" y="113"/><use href="#rU" x="1063" y="129"/><use href="#bD" x="1047" y="137"/><use href="#bL" x="1031" y="153"/><use href="#bR" x="1079" y="153"/><use href="#rL" x="1031" y="177"/><use href="#rU" x="1063" y="209"/><use href="#rL" x="1031" y="241"/><use href="#bD" x="1047" y="265"/><use href="#rR" x="1079" y="289"/><use href="#rL" x="1095" y="305"/><use href="#rR" x="1079" y="337"/><use href="#rU" x="1127" y="369"/><use href="#bL" x="1095" y="393"/><use href="#rD" x="1111" y="417"/><use href="#rL" x="1095" y="433"/><use href="#rL" x="1095" y="449"/><use href="#rR" x="1143" y="465"/><use href="#rR" x="1143" y="481"/><use href="#rD" x="1111" y="497"/><use href="#rU" x="1127" y="513"/><use href="#bR" x="1079" y="521"/><use href="#bL" x="1095" y="537"/><use href="#rD" x="1047" y="545"/><use href="#rR" x="1079" y="561"/><use href="#bD" x="1047" y="585"/><use href="#rL" x="1095" y="609"/><use href="#rR" x="1079" y="625"/><use href="#rL" x="1095" y="641"/><use href="#rR" x="1079" y="657"/><use href="#rL" x="1095" y="657"/><use href="#rR" x="1079" y="689"/><use href="#bL" x="1095" y="713"/><use href="#rR" x="1079" y="737"/><use href="#rL" x="1095" y="753"/><use href="#rR" x="1079" y="769"/><use href="#rR" x="1079" y="785"/><use href="#rL" x="1095" y="785"/>
</g>
<g fill="#000">
<text transform="translate(7.20,15.00)" font-size="11.00" x="0.19 7.19 14.19 21.19 28.19 35.19 42.19 49.19 56.19 63.19 70.19 77.19 84.19 91.19 98.19 105.19 112.19 119.19 126.19 133.19 140.19 147.19 154.19 161.19 168.19 175.19 182.19 189.19 196.19 203.19 210.19 217.19 224.19 231.19 238.19 245.19 252.19" xml:space="preserve" font-weight="bold" stroke="#000" stroke-width="0.35">Rookie.F feat. Sean(from PHOENIX ASH)</text>
<text transform="translate(8.40,33.00) scale(0.9000,1)" font-size="14.00" x="0.12 8.79 17.45 26.12" xml:space="preserve" stroke="#000" stroke-width="0.20">Roar</text>
<text transform="translate(7.20,45.00)" font-size="10.00" x="-0.01 5.99 11.99 17.99 23.99 29.82 35.82 41.82 47.99 53.99 59.99 65.99 71.99 77.99 83.99 89.99 95.99 101.99 107.99 113.99 119.99 125.99 131.99 137.99 143.99 149.99 155.99 161.99 167.99 173.99 179.99 185.99" xml:space="preserve" stroke="#000" stroke-width="0.15">BPM: <tspan font-family="DejaVu Sans, Liberation Sans, sans-serif">200</tspan> / BASIC DOUBLE / 7 feet</text>
<text stroke="#000" stroke-width="0.45" transform="translate(12.00,57.00) scale(0.8500,1)" font-size="10.00" x="-0.07" xml:space="preserve">A</text>
<text transform="translate(7.20,835.00)" font-size="10.00" x="-0.01 5.99 11.99 17.82 23.82 29.82 35.99 41.99 47.99 53.99" xml:space="preserve" fill="#666" stroke="#666" stroke-width="0.15">A: <tspan font-family="DejaVu Sans, Liberation Sans, sans-serif">200</tspan> BPM</text>
<text transform="translate(7.20,850.00)" font-size="10.00" x="-0.01 5.99 11.99 17.99 23.99 29.99 35.99 41.99 47.99 53.99 59.99 65.99 71.99 77.99 83.99 89.99 95.99 101.99 107.99 113.99 119.99 125.99 131.99 137.99 143.99 149.99 155.99 161.99 167.99 173.99 179.99 185.99 191.99 197.99 203.99 209.99 215.99 221.99 227.99 233.99 239.99 245.99" xml:space="preserve" stroke="#000" stroke-width="0.15">262 steps, 36 freeze arrows, max combo 274</text>

</g>
</svg>
</body></html>
